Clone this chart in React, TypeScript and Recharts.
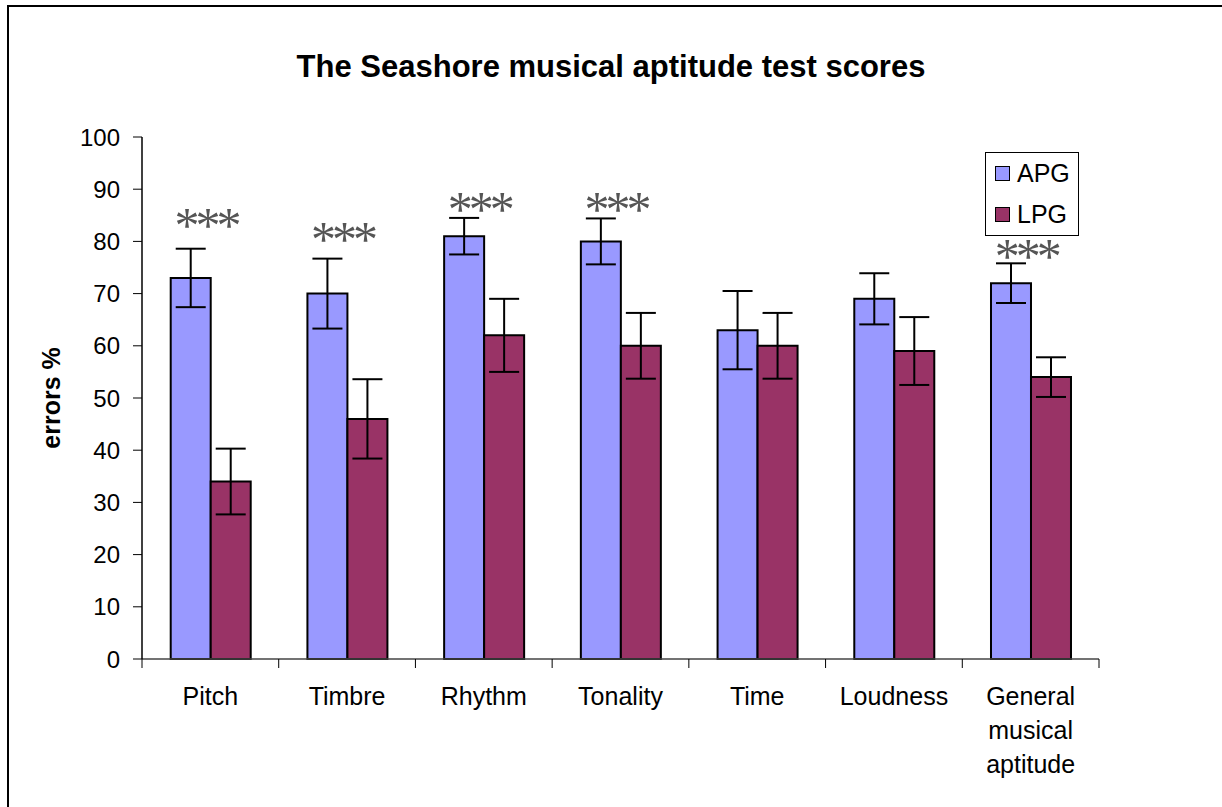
import React from 'react';
import { ComposedChart, Bar, XAxis, YAxis, ErrorBar, LabelList, Legend } from 'recharts';

// categories and values
const categories = ['Pitch', 'Timbre', 'Rhythm', 'Tonality', 'Time', 'Loudness', 'General musical aptitude'];
const apgScores = [73, 70, 81, 80, 63, 69, 72];
const apgErrors = [5.6, 6.7, 3.5, 4.4, 7.5, 4.9, 3.8];
const lpgScores = [34, 46, 62, 60, 60, 59, 54];
const lpgErrors = [6.3, 7.6, 7, 6.3, 6.3, 6.5, 3.8];
// level (in %) where the "***" marks sit, null = no mark
const sigLevels = [84.4, 81.7, 87.4, 87.4, null, null, 78.5];
const yTicks = [0, 10, 20, 30, 40, 50, 60, 70, 80, 90, 100];

const data = categories.map((cat, i) => ({
  cat,
  apg: apgScores[i],
  apgErr: apgErrors[i],
  lpg: lpgScores[i],
  lpgErr: lpgErrors[i],
  sig: sigLevels[i],
}));

const W = 1222;
const H = 807;
const X_AXIS_H = 148;
const Y_AXIS_W = 60;
const margin = { top: 137, right: 123, bottom: 0, left: 82 };
const PLOT_LEFT = margin.left + Y_AXIS_W;
const PLOT_BOTTOM = H - margin.bottom - X_AXIS_H;
const BAND = (W - margin.right - PLOT_LEFT) / categories.length;

const font = 'Arial, "Liberation Sans", sans-serif';

const CategoryTick = (props: any) => {
  const { x, payload, index } = props;
  const lines = String(payload.value).split(' ');
  const isLast = index === categories.length - 1;
  return (
    <g>
      <line x1={x - BAND / 2} x2={x - BAND / 2} y1={PLOT_BOTTOM} y2={PLOT_BOTTOM + 9} stroke="#000" strokeWidth={1} />
      {isLast && (
        <line x1={x + BAND / 2} x2={x + BAND / 2} y1={PLOT_BOTTOM} y2={PLOT_BOTTOM + 9} stroke="#000" strokeWidth={1} />
      )}
      <text textAnchor="middle" fontSize={25} fontFamily={font} fill="#000">
        {lines.map((l, i) => (
          <tspan key={i} x={x} y={PLOT_BOTTOM + 46 + i * 34}>
            {l}
          </tspan>
        ))}
      </text>
    </g>
  );
};

const SigMark = (props: any) => {
  const vb = props.viewBox || props;
  const { x, y, width, height } = vb;
  const { value, index } = props;
  if (value == null) return null;
  const perUnit = height / apgScores[index];
  const cy = y + height - value * perUnit;
  const fs = 50;
  return (
    <text
      x={x + width * 0.88}
      y={cy + fs * 0.47}
      textAnchor="middle"
      fontSize={fs}
      letterSpacing={-4}
      fontFamily='"Liberation Serif", "Times New Roman", serif'
      fill="#555"
    >
      ***
    </text>
  );
};

const LegendBox = (props: any) => {
  const { payload } = props;
  return (
    <div
      style={{
        border: '1px solid #000',
        background: '#fff',
        width: 92,
        height: 82,
        boxSizing: 'content-box',
        fontFamily: font,
        fontSize: 25,
        paddingTop: 0,
      }}
    >
      {(payload || []).map((p: any) => (
        <div key={p.value} style={{ display: 'flex', alignItems: 'center', height: 41, paddingLeft: 9 }}>
          <span
            style={{
              display: 'inline-block',
              width: 13,
              height: 13,
              background: p.color,
              border: '1px solid #000',
              marginRight: 7,
            }}
          />
          <span>{p.value}</span>
        </div>
      ))}
    </div>
  );
};

export default function App() {
  return (
    <div style={{ position: 'fixed', left: 0, top: 0, width: W, height: H, overflow: 'hidden', background: '#fff' }}>
      <div
        style={{
          position: 'absolute',
          left: 7,
          top: 5,
          width: W + 40,
          height: H + 40,
          border: '2px solid #000',
        }}
      />
      <div
        style={{
          position: 'absolute',
          left: 0,
          top: 51,
          width: W,
          textAlign: 'center',
          fontFamily: font,
          fontWeight: 'bold',
          fontSize: 31,
          lineHeight: '31px',
          color: '#000',
        }}
      >
        The Seashore musical aptitude test scores
      </div>
      <div style={{ position: 'absolute', left: 0, top: 0 }}>
        <ComposedChart width={W} height={H} data={data} margin={margin} barCategoryGap="21%" barGap={0}>
          <XAxis
            dataKey="cat"
            interval={0}
            axisLine={{ stroke: '#444', strokeWidth: 1.5 }}
            tickLine={false}
            tick={<CategoryTick />}
            height={X_AXIS_H}
          />
          <XAxis xAxisId="top" dataKey="cat" orientation="top" height={0} tick={false} tickLine={false} axisLine={{ stroke: '#888', strokeWidth: 1.5 }} />
          <YAxis
            domain={[0, 100]}
            ticks={yTicks}
            interval={0}
            width={Y_AXIS_W}
            tickSize={9}
            tickMargin={13}
            axisLine={{ stroke: '#000', strokeWidth: 1.5 }}
            tickLine={{ stroke: '#000' }}
            tick={{ fontSize: 24, fontFamily: font, fill: '#000' }}
            label={{
              content: (p: any) => {
                const vb = p.viewBox || {};
                return (
                  <text
                    x={0}
                    y={0}
                    transform={`translate(51, ${vb.y + vb.height / 2}) rotate(-90)`}
                    textAnchor="middle"
                    dominantBaseline="central"
                    fontSize={25}
                    fontWeight="bold"
                    fontFamily={font}
                    fill="#000"
                  >
                    errors %
                  </text>
                );
              },
            }}
          />
          <YAxis yAxisId="right" orientation="right" domain={[0, 100]} width={0} tick={false} tickLine={false} axisLine={{ stroke: '#888', strokeWidth: 1.5 }} />
          <Legend
            layout="vertical"
            align="center"
            verticalAlign="middle"
            content={<LegendBox />}
            wrapperStyle={{ position: 'absolute', left: 985, top: 152, width: 94, height: 84 }}
          />
          <Bar dataKey="apg" name="APG" fill="#9999FF" stroke="#000" strokeWidth={2} isAnimationActive={false}>
            <ErrorBar dataKey="apgErr" width={15} stroke="#000" strokeWidth={2} direction="y" isAnimationActive={false} />
            <LabelList dataKey="sig" content={<SigMark />} />
          </Bar>
          <Bar dataKey="lpg" name="LPG" fill="#993366" stroke="#000" strokeWidth={2} isAnimationActive={false}>
            <ErrorBar dataKey="lpgErr" width={15} stroke="#000" strokeWidth={2} direction="y" isAnimationActive={false} />
          </Bar>
        </ComposedChart>
      </div>
    </div>
  );
}
